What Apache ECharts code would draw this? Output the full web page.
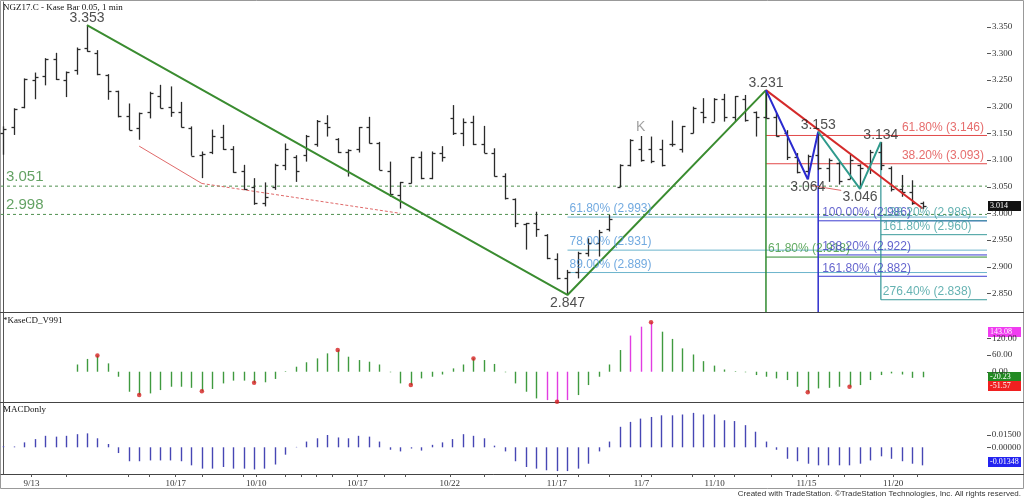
<!DOCTYPE html>
<html><head><meta charset="utf-8">
<script src="https://cdn.jsdelivr.net/npm/echarts@6/dist/echarts.min.js"></script>
<style>html,body{margin:0;padding:0;background:#fff}#c{width:1024px;height:499px}</style>
</head><body><div id="c"></div>
<script>
// ---------------- DATA ----------------
const opens  = [3.150,3.161,3.199,3.250,3.258,3.290,3.250,3.269,3.310,3.300,3.260,3.230,3.182,3.160,3.190,3.220,3.200,3.190,3.160,3.110,3.115,3.143,3.120,3.080,3.050,3.020,3.050,3.090,3.105,3.110,3.130,3.170,3.140,3.115,3.120,3.162,3.132,3.080,3.035,3.057,3.106,3.066,3.114,3.178,3.150,3.172,3.130,3.114,3.070,3.027,2.980,2.981,2.960,2.915,2.878,2.890,2.925,2.945,2.970,3.050,3.090,3.120,3.120,3.120,3.130,3.120,3.150,3.190,3.172,3.215,3.180,3.215,3.190,3.180,3.180,3.150,3.105,3.080,3.110,3.085,3.095,3.065,3.090,3.085,3.115,3.085,3.045,3.040,3.020];
const highs  = [3.163,3.197,3.253,3.264,3.291,3.301,3.266,3.311,3.353,3.306,3.261,3.230,3.206,3.189,3.228,3.241,3.238,3.209,3.163,3.116,3.157,3.166,3.126,3.091,3.066,3.058,3.093,3.131,3.109,3.147,3.175,3.184,3.141,3.120,3.162,3.181,3.134,3.097,3.059,3.106,3.116,3.116,3.126,3.203,3.178,3.183,3.164,3.122,3.075,3.028,2.982,3.003,2.961,2.925,2.894,2.928,2.953,2.969,2.997,3.092,3.139,3.145,3.144,3.138,3.174,3.164,3.200,3.216,3.216,3.224,3.220,3.222,3.191,3.231,3.188,3.156,3.113,3.110,3.153,3.103,3.097,3.110,3.092,3.119,3.134,3.088,3.072,3.062,3.022];
const lows   = [3.110,3.147,3.197,3.214,3.240,3.250,3.218,3.260,3.303,3.259,3.213,3.180,3.156,3.138,3.178,3.197,3.181,3.161,3.108,3.066,3.111,3.119,3.076,3.044,3.016,3.013,3.044,3.081,3.059,3.097,3.125,3.144,3.113,3.069,3.114,3.131,3.081,3.031,3.009,3.056,3.064,3.064,3.097,3.147,3.126,3.128,3.113,3.069,3.026,2.974,2.932,2.956,2.914,2.876,2.847,2.878,2.919,2.919,2.966,3.049,3.088,3.097,3.094,3.088,3.125,3.114,3.150,3.169,3.172,3.172,3.172,3.172,3.144,3.178,3.144,3.100,3.075,3.064,3.081,3.059,3.054,3.064,3.046,3.074,3.081,3.041,3.031,3.016,3.008];
const closes = [3.159,3.195,3.251,3.256,3.290,3.252,3.265,3.309,3.305,3.261,3.230,3.182,3.157,3.188,3.225,3.198,3.190,3.162,3.108,3.112,3.145,3.120,3.077,3.045,3.020,3.030,3.090,3.120,3.080,3.145,3.174,3.162,3.115,3.118,3.162,3.132,3.082,3.036,3.058,3.105,3.066,3.114,3.106,3.150,3.172,3.130,3.114,3.070,3.028,2.981,2.981,2.970,2.916,2.878,2.890,2.926,2.945,2.965,2.990,3.090,3.138,3.100,3.098,3.090,3.130,3.164,3.198,3.180,3.215,3.180,3.220,3.175,3.180,3.178,3.145,3.105,3.078,3.108,3.085,3.100,3.060,3.100,3.085,3.115,3.090,3.045,3.040,3.020,3.014];

const kaseCD = [null,null,null,null,null,null,null,26,46,58,30,-18,-72,-84,-78,-66,-54,-54,-58,-70,-62,-42,-32,-32,-40,-38,-26,2,18,34,48,66,78,54,42,36,26,-2,-42,-48,-24,-18,-10,12,26,48,42,28,-2,-42,-72,-96,-102,-108,-102,-84,-48,-18,26,78,130,162,178,144,118,84,62,38,22,8,2,-2,-12,-18,-24,-30,-54,-74,-60,-58,-54,-54,-48,-30,-12,-6,-10,-22,-20];
const kasePeakBars = [52,53,54,60,61,62];
const kaseDotBars = [9,13,19,24,32,39,45,53,62,77,81];
const kaseLastLabel = -20.23, kaseUpperLabel = 143.08, kaseLowerLabel = -51.57;

const macd = [0.0015,0.001,0.006,0.010,0.014,0.013,0.014,0.016,0.017,0.011,0.004,-0.007,-0.017,-0.017,-0.016,-0.016,-0.016,-0.017,-0.022,-0.026,-0.026,-0.024,-0.026,-0.026,-0.027,-0.026,-0.021,-0.009,0.0005,0.007,0.011,0.015,0.012,0.011,0.014,0.013,0.007,-0.003,-0.005,-0.0015,-0.004,0.003,0.006,0.010,0.016,0.014,0.011,0.002,-0.005,-0.017,-0.024,-0.026,-0.028,-0.029,-0.029,-0.026,-0.020,-0.005,0.007,0.025,0.031,0.035,0.037,0.039,0.039,0.040,0.042,0.040,0.040,0.033,0.032,0.027,0.019,0.007,-0.003,-0.014,-0.017,-0.020,-0.022,-0.022,-0.022,-0.022,-0.020,-0.016,-0.011,-0.014,-0.017,-0.020,-0.022];
const macdLastLabel = -0.01348;

const priceTicks = [2.85,2.90,2.95,3.00,3.05,3.10,3.15,3.20,3.25,3.30,3.35];
const kaseTicks = [0,60,120];
const macdTicks = [0,0.015];
const dateTickPos = [2.7,16.5,24.2,33.9,42.75,53,61.1,68.1,76.9,85.2];
const dateTickLabels = ['9/13','10/17','10/10','10/17','10/22','11/17','11/7','11/10','11/15','11/20'];
const minorTickPos = [6,12,14,19,23,27,28.5,30,31.5,36.5,38.5,46,50,55,58,62,66,70,73.5,75.5,78,80.5,82,87.5];

const greenSwing = [[8,3.353],[54,2.847],[73,3.231]];
const redTrend   = [[73,3.231],[88,3.009]];
const blueSwing  = [[73,3.231],[77,3.064],[78,3.153]];
const tealSwing  = [[78,3.153],[82,3.046],[84,3.134]];
const swingTop    = [[8,3.353,'3.353'],[73,3.231,'3.231'],[78,3.153,'3.153'],[84,3.134,'3.134']];
const swingBottom = [[54,2.847,'2.847'],[77,3.064,'3.064'],[82,3.046,'3.046']];
const divergenceSolid = [[[13,3.126],[19,3.056]],[[77.4,3.052],[80.2,3.043]]];
const divergenceDashed = [[19,3.056],[38,3.000]];
const supportLevels = [3.051, 2.998];
const kMarker = [[61,3.162,'K']];

const redFibStart = 73, redFibLevels = [3.146,3.093], redFibLabels = ['61.80% (3.146)','38.20% (3.093)'];
const lightFibStart = 54, lightFibLevels = [2.993,2.931,2.889], lightFibLabels = ['61.80% (2.993)','78.00% (2.931)','89.00% (2.889)'];
const greenFibStart = 73, greenFibLevels = [2.918], greenFibLabels = ['61.80% (2.918)'];
const blueFibStart = 78, blueFibLevels = [2.986,2.922,2.882], blueFibLabels = ['100.00% (2.986)','138.20% (2.922)','161.80% (2.882)'];
const tealFibStart = 84, tealFibLevels = [2.986,2.960,2.838], tealFibLabels = ['138.20% (2.986)','161.80% (2.960)','276.40% (2.838)'];

// ---------------- CHART ----------------
const XMIN = -0.23, XMAX = 94.16;
const PMIN = 2.8150, PMAX = 3.3963;
const chart = echarts.init(document.getElementById('c'), null, {renderer:'canvas'});
const SANS = '"Liberation Sans", Arial, sans-serif';
const SERIF = '"Liberation Serif", "Times New Roman", serif';

function seg(points, color, width, type, opts) {
  return Object.assign({type:'line', xAxisIndex:0, yAxisIndex:0, data:points, symbol:'none', silent:true,
    lineStyle:{color, width, type: type || 'solid'}, z:3, animation:false}, opts || {});
}
function labels(points, color, font, label, opts) {
  return Object.assign({type:'scatter', xAxisIndex:0, yAxisIndex:0, data:points, symbolSize:0, silent:true, z:6,
    itemStyle:{color:'rgba(0,0,0,0)'},
    label:Object.assign({show:true, formatter:p=>p.data[2], color, fontFamily:SANS, fontSize:font}, label)}, opts || {});
}
function fibGroup(start, levels, texts, lineColor, textColor, labelPos, align, anchorEnd) {
  const s = [];
  levels.forEach(l => s.push(seg([[start,l],[XMAX,l]], lineColor, 1, 'solid', {z:2})));
  const pts = levels.map((l,i) => [anchorEnd ? XMAX : start, l, texts[i]]);
  s.push(labels(pts, textColor, 12, {position:labelPos, align:align || 'left', verticalAlign:'top', lineHeight:12}));
  return s;
}

const ohlcData = opens.map((o,i)=>[i,o,highs[i],lows[i],closes[i]]);

const series = [];
supportLevels.forEach(l => series.push(seg([[XMIN,l],[XMAX,l]], '#4f8f4f', 1, [3,3], {z:1})));
series.push(labels(supportLevels.map(l=>[XMIN,l,l.toFixed(3)]), '#3d8b3d', 15, {position:[5,-17], align:'left', verticalAlign:'top'}));
series.push(...fibGroup(lightFibStart, lightFibLevels, lightFibLabels, '#6cb4cc', '#4f95d8', [2,-14]));
series.push(...fibGroup(greenFibStart, greenFibLevels, greenFibLabels, '#2f8a2f', '#3a953a', [2,-14]));
series.push(...fibGroup(blueFibStart, blueFibLevels, blueFibLabels, '#3c3cd0', '#3d3dc2', [4,-14]));
series.push(...fibGroup(tealFibStart, tealFibLevels, tealFibLabels, '#3a9b9b', '#3f9f9f', [2,-14]));
series.push(...fibGroup(redFibStart, redFibLevels, redFibLabels, '#e24a4a', '#e04848', [-3,-14], 'right', true));
// vertical projection lines
series.push(seg([[greenSwing[2][0],greenSwing[2][1]],[greenSwing[2][0],PMIN]], '#2f8a2f', 1.5));
series.push(seg([[blueSwing[2][0],blueSwing[2][1]],[blueSwing[2][0],PMIN]], '#2d2dcc', 1.5));
series.push(seg([[tealSwing[2][0],tealSwing[2][1]],[tealSwing[2][0],tealFibLevels[2]]], '#2f9494', 1.2));
// divergence lines
divergenceSolid.forEach(d => series.push(seg(d, '#e06a6a', 1)));
series.push(seg(divergenceDashed, '#e06a6a', 1, [3,2]));
// OHLC bars
series.push({type:'custom', xAxisIndex:0, yAxisIndex:0, data:ohlcData, z:4, silent:true, animation:false,
  encode:{x:0, y:[1,2,3,4]},
  renderItem:(params, api) => {
    const i = api.value(0);
    const h = api.coord([i, api.value(2)]), l = api.coord([i, api.value(3)]);
    const o = api.coord([i, api.value(1)]), c = api.coord([i, api.value(4)]);
    const x = Math.round(h[0]) + 0.5;
    const st = {stroke:'#2b2b2b', lineWidth:1.3};
    return {type:'group', children:[
      {type:'line', shape:{x1:x,y1:h[1],x2:x,y2:l[1]}, style:st},
      {type:'line', shape:{x1:x-3,y1:Math.round(o[1])+0.5,x2:x,y2:Math.round(o[1])+0.5}, style:st},
      {type:'line', shape:{x1:x,y1:Math.round(c[1])+0.5,x2:x+3,y2:Math.round(c[1])+0.5}, style:st}
    ]};
  }});
// swing lines
series.push(seg(greenSwing, '#3a8c30', 2, 'solid', {z:5}));
series.push(seg(redTrend, '#d42a2a', 2, 'solid', {z:5}));
series.push(seg(blueSwing, '#2a2ad0', 2, 'solid', {z:5}));
series.push(seg(tealSwing, '#2f9a8c', 2, 'solid', {z:5}));
series.push(labels(swingTop, '#222', 14, {position:'top', distance:0}));
series.push(labels(swingBottom, '#222', 14, {position:'bottom', distance:1}));
series.push(labels(kMarker, '#8a8a8a', 14, {position:'inside'}));

// KaseCD histogram
series.push({type:'custom', xAxisIndex:1, yAxisIndex:1, data:kaseCD.map((v,i)=>[i,v]).filter(d=>d[1]!==null),
  silent:true, animation:false, z:3, encode:{x:0,y:1},
  renderItem:(params, api) => {
    const i = api.value(0), v = api.value(1);
    const a = api.coord([i,0]), b = api.coord([i,v]);
    const x = Math.round(a[0]) + 0.5;
    return {type:'line', shape:{x1:x,y1:a[1],x2:x,y2:b[1]},
      style:{stroke: kasePeakBars.includes(i) ? '#e23ce2' : '#3f9a3f', lineWidth:1.4}};
  }});
series.push({type:'scatter', xAxisIndex:1, yAxisIndex:1, data:kaseDotBars.map(i=>[i,kaseCD[i]]), symbolSize:4.5,
  itemStyle:{color:'#d42020'}, silent:true, animation:false, z:5});
// MACD histogram
series.push({type:'custom', xAxisIndex:2, yAxisIndex:2, data:macd.map((v,i)=>[i,v]),
  silent:true, animation:false, z:3, encode:{x:0,y:1},
  renderItem:(params, api) => {
    const i = api.value(0), v = api.value(1);
    const a = api.coord([i,0]), b = api.coord([i,v]);
    const x = Math.round(a[0]) + 0.5;
    return {type:'line', shape:{x1:x,y1:a[1],x2:x,y2:b[1]}, style:{stroke:'#4646b4', lineWidth:1.4}};
  }});

const axisFont = {fontFamily:SERIF, fontSize:9, color:'#333'};
function yAx(gi, min, max, ticks, dec) {
  return {type:'value', gridIndex:gi, position:'right', min, max,
    axisLine:{show:true, lineStyle:{color:'#555'}}, axisTick:{show:false},
    axisLabel:Object.assign({show:true, margin:5, customValues:ticks, formatter:v=>v.toFixed(dec)}, axisFont),
    splitLine:{show:false}};
}
function xAx(gi, showLabels) {
  const ax = {type:'value', gridIndex:gi, min:XMIN, max:XMAX, splitLine:{show:false}};
  if (!showLabels) return Object.assign(ax, {axisLine:{show:false}, axisTick:{show:false}, axisLabel:{show:false}});
  return Object.assign(ax, {axisLine:{show:true, onZero:false, lineStyle:{color:'#444'}},
    axisTick:{show:true, length:3, customValues:dateTickPos.concat(minorTickPos), lineStyle:{color:'#555'}},
    axisLabel:Object.assign({show:true, margin:5, customValues:dateTickPos,
      formatter:v=>{const k = dateTickPos.findIndex(p=>Math.abs(p-v)<1e-6); return k>=0 ? dateTickLabels[k] : '';}}, axisFont)});
}

const staticGraphics = [
  {type:'rect', shape:{x:0.5,y:0.5,width:1023,height:488}, style:{fill:'none', stroke:'#999', lineWidth:1}, silent:true},
  {type:'line', shape:{x1:0,y1:312.5,x2:1024,y2:312.5}, style:{stroke:'#444', lineWidth:1}, silent:true},
  {type:'line', shape:{x1:0,y1:402.5,x2:1024,y2:402.5}, style:{stroke:'#444', lineWidth:1}, silent:true},
  {type:'line', shape:{x1:987,y1:474.5,x2:1024,y2:474.5}, style:{stroke:'#444', lineWidth:1}, silent:true},
  {type:'text', x:3, y:3, style:{text:'NGZ17.C - Kase Bar 0.05, 1 min', font:'9px '+SERIF, fill:'#111'}, silent:true},
  {type:'text', x:3, y:316, style:{text:'*KaseCD_V991', font:'9px '+SERIF, fill:'#111'}, silent:true},
  {type:'text', x:3, y:405, style:{text:'MACDonly', font:'9px '+SERIF, fill:'#111'}, silent:true},
  {type:'text', x:1021, y:490, style:{text:'Created with TradeStation. \u00A9TradeStation Technologies, Inc. All rights reserved.', font:'8px '+SANS, fill:'#333', align:'right'}, silent:true}
];

chart.setOption({
  animation:false,
  backgroundColor:'#fff',
  grid:[
    {left:1, right:37, top:2, height:310},
    {left:1, right:37, top:313, height:89},
    {left:1, right:37, top:403, height:71}
  ],
  xAxis:[xAx(0,false), xAx(1,false), xAx(2,true)],
  yAxis:[yAx(0,PMIN,PMAX,priceTicks,3), yAx(1,-108.9,211.2,kaseTicks,2), yAx(2,-0.03256,0.05402,macdTicks,5)],
  series,
  graphic: staticGraphics
});

function box(yi, value, text, bg) {
  const y = chart.convertToPixel({yAxisIndex:yi}, value);
  return {type:'group', x:988, y:Math.round(y)-5, silent:true, z:100, children:[
    {type:'rect', shape:{x:0,y:0,width:33,height:10}, style:{fill:bg}},
    {type:'text', x:2, y:5, style:{text, fill:'#fff', font:'8px '+SERIF, verticalAlign:'middle'}}
  ]};
}
function ticks(yi, values) {
  return values.map(v => {
    const y = Math.round(chart.convertToPixel({yAxisIndex:yi}, v)) + 0.5;
    return {type:'line', silent:true, shape:{x1:987,y1:y,x2:991,y2:y}, style:{stroke:'#555', lineWidth:1}};
  });
}
chart.setOption({graphic: staticGraphics.concat(
  ticks(0, priceTicks), ticks(1, kaseTicks), ticks(2, macdTicks), [
  box(0, closes[closes.length-1], closes[closes.length-1].toFixed(3), '#111'),
  box(1, kaseUpperLabel, kaseUpperLabel.toFixed(2), '#f03cf0'),
  box(1, kaseLastLabel, kaseLastLabel.toFixed(2), '#238a23'),
  box(1, kaseLowerLabel, kaseLowerLabel.toFixed(2), '#f02020'),
  box(2, -0.0176, macdLastLabel.toFixed(5), '#2424f0')
])});
</script></body></html>
